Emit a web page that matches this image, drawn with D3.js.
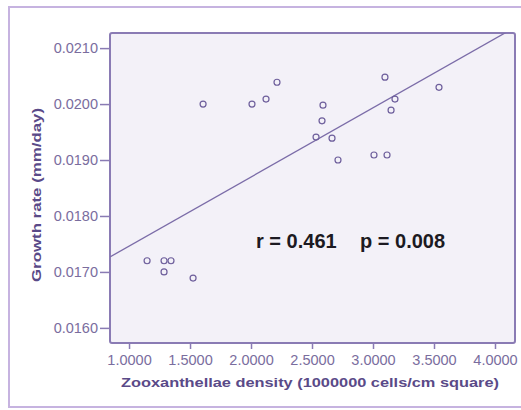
<!DOCTYPE html>
<html>
<head>
<meta charset="utf-8">
<script src="https://cdn.jsdelivr.net/npm/d3@7"></script>
<style>
  body { margin: 0; background: #fff; }
  svg { display: block; }
</style>
</head>
<body>
<div id="chart"></div>
<script>
// zooxanthellae density (x 1e6 cells/cm2) vs growth rate (mm/day)
const density = [1.607, 2.008, 2.213, 2.123, 3.098, 3.541, 3.180, 3.148, 2.590, 2.582,
                 2.533, 2.664, 2.713, 3.008, 3.115, 1.148, 1.287, 1.344, 1.287, 1.525];
const growth = [0.02000, 0.02000, 0.02039, 0.02009, 0.02048, 0.02030, 0.02009, 0.01989, 0.01998, 0.01970,
                0.01941, 0.01939, 0.01900, 0.01909, 0.01909, 0.01720, 0.01720, 0.01720, 0.01700, 0.01689];
const xTicks = [1.0, 1.5, 2.0, 2.5, 3.0, 3.5, 4.0];
const yTicks = [0.0160, 0.0170, 0.0180, 0.0190, 0.0200, 0.0210];
// fitted line: growth = intercept + slope * density
const fit = { intercept: 0.016225, slope: 0.001236 };
const statR = 'r = 0.461';
const statP = 'p = 0.008';

const W = 521, H = 410;
const plot = { left: 110, top: 33, right: 515, bottom: 343 };
const font = 'Arial, "Liberation Sans", sans-serif';

const svg = d3.select('#chart').append('svg')
  .attr('width', W)
  .attr('height', H);

// outer frame
svg.append('rect')
  .attr('x', 9).attr('y', 7)
  .attr('width', 520).attr('height', 400)
  .attr('fill', '#fff')
  .attr('stroke', '#c6b3e0')
  .attr('stroke-width', 2);

const x = d3.scaleLinear().domain([0.844, 4.164]).range([plot.left, plot.right]);
const y = d3.scaleLinear().domain([0.01573, 0.02127]).range([plot.bottom, plot.top]);

svg.append('defs').append('clipPath').attr('id', 'clip')
  .append('rect')
  .attr('x', plot.left).attr('y', plot.top)
  .attr('width', plot.right - plot.left).attr('height', plot.bottom - plot.top);

// plot area
svg.append('rect')
  .attr('x', plot.left).attr('y', plot.top)
  .attr('width', plot.right - plot.left).attr('height', plot.bottom - plot.top)
  .attr('rx', 2)
  .attr('fill', '#f3f1f8')
  .attr('stroke', '#8a7bb4')
  .attr('stroke-width', 2);

// axes
const xAxis = svg.append('g')
  .attr('transform', `translate(0,${plot.bottom})`)
  .call(d3.axisBottom(x).tickValues(xTicks).tickFormat(d3.format('.4f')).tickSize(6).tickPadding(6));
const yAxis = svg.append('g')
  .attr('transform', `translate(${plot.left},0)`)
  .call(d3.axisLeft(y).tickValues(yTicks).tickFormat(d3.format('.4f')).tickSize(10).tickPadding(2));

[xAxis, yAxis].forEach(g => {
  g.select('.domain').remove();
  g.selectAll('line').attr('stroke', '#8a7bb4').attr('stroke-width', 1.5);
  g.selectAll('text')
    .attr('fill', '#7a6d9e')
    .style('font-family', font)
    .style('font-size', '14.5px');
});

// regression line
const xs = x.domain();
svg.append('line')
  .attr('clip-path', 'url(#clip)')
  .attr('x1', x(xs[0])).attr('y1', y(fit.intercept + fit.slope * xs[0]))
  .attr('x2', x(xs[1])).attr('y2', y(fit.intercept + fit.slope * xs[1]))
  .attr('stroke', '#7b6ca8')
  .attr('stroke-width', 1.3);

// points
svg.selectAll('.pt')
  .data(density.map((d, i) => ({ d, g: growth[i] })))
  .enter().append('circle')
  .attr('class', 'pt')
  .attr('cx', p => x(p.d))
  .attr('cy', p => y(p.g))
  .attr('r', 3)
  .attr('fill', 'none')
  .attr('stroke', '#6e5f9c')
  .attr('stroke-width', 1.2);

// stats
[[statR, 256], [statP, 360]].forEach(([t, px]) => {
  svg.append('text')
    .attr('x', px).attr('y', 248)
    .attr('fill', '#1c1a22')
    .style('font-family', font)
    .style('font-weight', 'bold')
    .style('font-size', '20px')
    .text(t);
});

// axis titles
svg.append('text')
  .attr('x', 310).attr('y', 387)
  .attr('text-anchor', 'middle')
  .attr('fill', '#5a4a88')
  .attr('textLength', 378)
  .attr('lengthAdjust', 'spacingAndGlyphs')
  .style('font-family', font)
  .style('font-weight', 'bold')
  .style('font-size', '13px')
  .text('Zooxanthellae density (1000000 cells/cm square)');

svg.append('text')
  .attr('transform', 'translate(41,195) rotate(-90)')
  .attr('text-anchor', 'middle')
  .attr('fill', '#5a4a88')
  .attr('textLength', 174)
  .attr('lengthAdjust', 'spacingAndGlyphs')
  .style('font-family', font)
  .style('font-weight', 'bold')
  .style('font-size', '13px')
  .text('Growth rate (mm/day)');
</script>
</body>
</html>
